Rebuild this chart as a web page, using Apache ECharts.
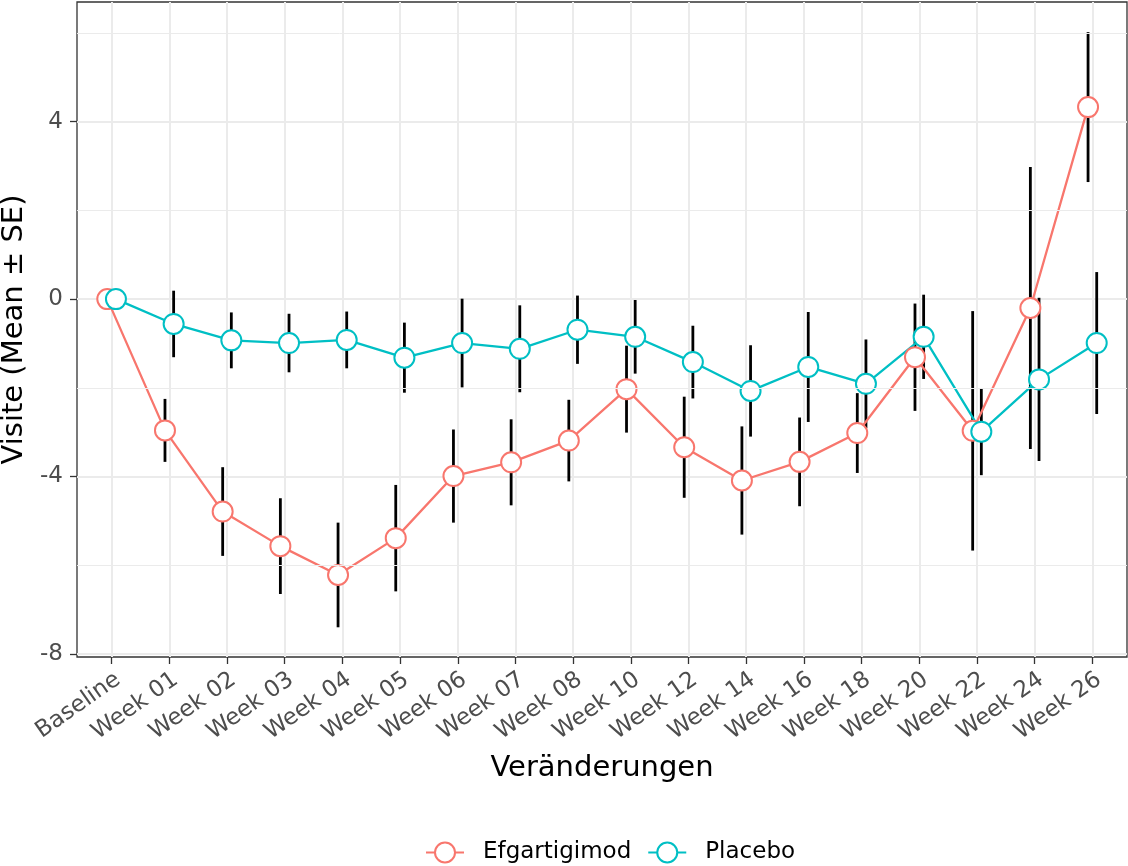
<!DOCTYPE html>
<html>
<head>
<meta charset="utf-8">
<script src="https://cdn.jsdelivr.net/npm/echarts@6/dist/echarts.min.js"></script>
<style>html,body{margin:0;padding:0;background:#fff}#c{width:1128px;height:866px}</style>
</head>
<body>
<div id="c"></div>
<script>
const categories = ['Baseline','Week 01','Week 02','Week 03','Week 04','Week 05','Week 06','Week 07','Week 08','Week 10','Week 12','Week 14','Week 16','Week 18','Week 20','Week 22','Week 24','Week 26'];
const efgMean = [0, -2.96, -4.79, -5.57, -6.22, -5.39, -3.99, -3.68, -3.19, -2.03, -3.34, -4.09, -3.67, -3.02, -1.31, -2.97, -0.20, 4.33];
const efgSE   = [0, 0.71, 1.00, 1.08, 1.18, 1.20, 1.05, 0.97, 0.92, 0.98, 1.14, 1.22, 1.00, 0.90, 1.21, 2.70, 3.18, 1.69];
const plaMean = [0, -0.56, -0.93, -0.99, -0.92, -1.32, -0.99, -1.12, -0.69, -0.85, -1.42, -2.07, -1.53, -1.91, -0.85, -2.99, -1.81, -0.99];
const plaSE   = [0, 0.75, 0.63, 0.66, 0.64, 0.79, 1.00, 0.98, 0.77, 0.83, 0.82, 1.03, 1.24, 1.00, 0.95, 0.98, 1.84, 1.60];
const yMajorTicks = [-8, -4, 0, 4];
const yMinorTicks = [-6, -2, 2, 6];
const yRange = [-8.07, 6.70];

const dodge = 0.075;
const catIdx = categories.map((c, i) => i);

function meanData(m, off) { return m.map((v, i) => [i + off, v]); }
function barData(m, s, off) { return m.map((v, i) => [i + off, v - s[i], v + s[i]]); }

function errSeries(m, s, off) {
  return {
    type: 'custom', z: 1, silent: true,
    data: barData(m, s, off),
    encode: { x: 0, y: [1, 2] },
    renderItem: (params, api) => {
      const x = api.value(0);
      const p1 = api.coord([x, api.value(1)]);
      const p2 = api.coord([x, api.value(2)]);
      return { type: 'line', shape: { x1: p1[0], y1: p1[1], x2: p2[0], y2: p2[1] },
               style: { stroke: '#000', lineWidth: 2.8 } };
    }
  };
}

const chart = echarts.init(document.getElementById('c'));
chart.setOption({
  animation: false,
  backgroundColor: '#fff',
  textStyle: { fontFamily: 'DejaVu Sans' },
  grid: { left: 77, right: 1, top: 2, bottom: 209, containLabel: false, outerBoundsMode: 'none',
          show: true, borderColor: '#333333', borderWidth: 1.3, backgroundColor: 'transparent' },
  xAxis: {
    type: 'value', min: -0.6, max: 17.6,
    name: 'Veränderungen', nameLocation: 'middle', nameGap: 97,
    nameTextStyle: { fontSize: 29, color: '#000', fontFamily: 'DejaVu Sans' },
    axisLine: { show: false, onZero: false },
    axisTick: { show: true, customValues: catIdx, length: 7, lineStyle: { color: '#333333', width: 1.3 } },
    axisLabel: { customValues: catIdx, formatter: v => categories[Math.round(v)], rotate: 35,
                 align: 'right', verticalAlign: 'top',
                 fontSize: 23, color: '#4D4D4D', margin: 11, fontFamily: 'DejaVu Sans' },
    splitLine: { show: true, lineStyle: { color: '#EBEBEB', width: 2 } }
  },
  yAxis: {
    type: 'value', min: yRange[0], max: yRange[1],
    name: 'Visite (Mean ± SE)', nameLocation: 'middle', nameGap: 46, nameRotate: 90,
    nameTextStyle: { fontSize: 29, color: '#000', fontFamily: 'DejaVu Sans' },
    axisLine: { show: false, onZero: false },
    axisTick: { show: true, customValues: yMajorTicks, length: 7, lineStyle: { color: '#333333', width: 1.3 } },
    axisLabel: { customValues: yMajorTicks, fontSize: 23, color: '#4D4D4D', margin: 14, fontFamily: 'DejaVu Sans' },
    splitLine: { show: true, lineStyle: { color: '#EBEBEB', width: 2 } }
  },
  legend: {
    top: 836, left: 420, itemWidth: 38, itemHeight: 25, itemGap: 16,
    textStyle: { fontSize: 23, color: '#000', fontFamily: 'DejaVu Sans', padding: [0, 0, 0, 14] },
    data: ['Efgartigimod', 'Placebo']
  },
  series: [
    {
      type: 'line', name: 'minor-grid', data: [], z: 0, silent: true,
      markLine: { silent: true, symbol: 'none', label: { show: false },
                  lineStyle: { color: '#EBEBEB', width: 1, type: 'solid' },
                  data: yMinorTicks.map(v => ({ yAxis: v })) }
    },
    errSeries(efgMean, efgSE, -dodge),
    errSeries(plaMean, plaSE, dodge),
    {
      type: 'line', name: 'Efgartigimod', z: 3, data: meanData(efgMean, -dodge),
      symbol: 'circle', symbolSize: 20, showSymbol: true,
      lineStyle: { color: '#F8766D', width: 2.3 },
      itemStyle: { color: '#FFFFFF', borderColor: '#F8766D', borderWidth: 2 }
    },
    {
      type: 'line', name: 'Placebo', z: 3, data: meanData(plaMean, dodge),
      symbol: 'circle', symbolSize: 20, showSymbol: true,
      lineStyle: { color: '#00BFC4', width: 2.3 },
      itemStyle: { color: '#FFFFFF', borderColor: '#00BFC4', borderWidth: 2 }
    }
  ]
});
</script>
</body>
</html>
